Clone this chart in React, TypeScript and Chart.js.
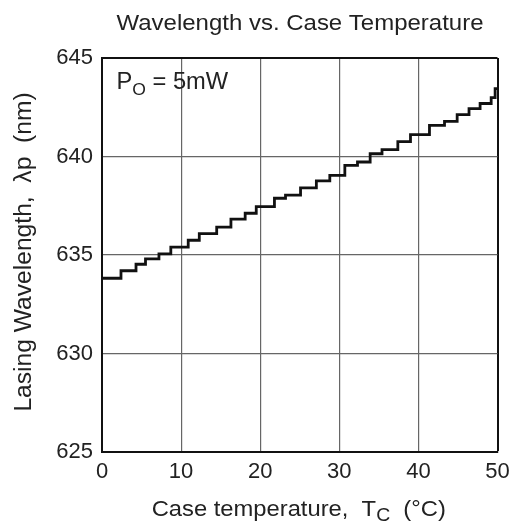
import { useEffect, useRef } from "react";
import { Chart, registerables } from "chart.js";

Chart.register(...registerables);

const temperatures = [0, 2.4, 4.3, 5.5, 7.2, 8.7, 10.9, 12.3, 14.5, 16.3, 18.1, 19.5, 21.8, 23.2, 25.1, 27.1, 28.8, 30.7, 32.3, 33.9, 35.4, 37.4, 39.0, 41.4, 43.3, 44.9, 46.4, 47.8, 49.2, 49.7, 50];
const wavelengths = [633.82, 634.2, 634.53, 634.8, 635.06, 635.4, 635.75, 636.08, 636.42, 636.82, 637.12, 637.46, 637.88, 638.04, 638.41, 638.76, 639.04, 639.55, 639.72, 640.14, 640.35, 640.76, 641.11, 641.58, 641.78, 642.13, 642.43, 642.69, 642.99, 643.45, 643.45];

const xTicks = [0, 10, 20, 30, 40, 50];
const yTicks = [625, 630, 635, 640, 645];

const chartTitle = "Wavelength vs. Case Temperature";
const xTitleMain = "Case temperature,  T";
const xTitleSub = "C";
const xTitleTail = "  (°C)";
const yTitle = "Lasing Wavelength,  λp  (nm)";
const noteMain = "P";
const noteSub = "O";
const noteTail = " = 5mW";

const FONT = "'Liberation Sans', Arial, sans-serif";
const TEXT = "#222";

type Part = { text: string; size: number; dy: number };

function drawParts(ctx: CanvasRenderingContext2D, parts: Part[], x: number, y: number, sx: number, align: "left" | "center") {
  let total = 0;
  const widths = parts.map((p) => {
    ctx.font = `${p.size}px ${FONT}`;
    const w = ctx.measureText(p.text).width;
    total += w;
    return w;
  });
  ctx.save();
  ctx.translate(x, y);
  ctx.scale(sx, 1);
  let cx = align === "center" ? -total / 2 : 0;
  ctx.textAlign = "left";
  ctx.textBaseline = "alphabetic";
  parts.forEach((p, i) => {
    ctx.font = `${p.size}px ${FONT}`;
    ctx.fillText(p.text, cx, p.dy);
    cx += widths[i];
  });
  ctx.restore();
}

const textPlugin = {
  id: "customText",
  afterDraw(chart: any) {
    const ctx = chart.ctx as CanvasRenderingContext2D;
    const area = chart.chartArea;
    const cx = (area.left + area.right) / 2;
    ctx.save();
    ctx.fillStyle = TEXT;

    drawParts(ctx, [{ text: chartTitle, size: 22, dy: 0 }], 300, 29.5, 1.09, "center");

    drawParts(
      ctx,
      [
        { text: xTitleMain, size: 22, dy: 0 },
        { text: xTitleSub, size: 18, dy: 5 },
        { text: xTitleTail, size: 22, dy: 0 },
      ],
      cx - 1,
      516,
      1.08,
      "center"
    );

    ctx.save();
    ctx.translate(31, 252);
    ctx.rotate(-Math.PI / 2);
    drawParts(ctx, [{ text: yTitle, size: 23, dy: 0 }], 0, 0, 1.07, "center");
    ctx.restore();

    drawParts(
      ctx,
      [
        { text: noteMain, size: 23, dy: 0 },
        { text: noteSub, size: 17, dy: 6.5 },
        { text: noteTail, size: 23, dy: 0 },
      ],
      116.5,
      88.5,
      1.03,
      "left"
    );

    ctx.restore();
  },
};

export default function App() {
  const ref = useRef<HTMLCanvasElement | null>(null);

  useEffect(() => {
    document.body.style.margin = "0";
    const canvas = ref.current;
    if (!canvas) return;
    const points = temperatures.map((t, i) => ({ x: t, y: wavelengths[i] }));
    const chart = new Chart(canvas, {
      type: "line",
      data: {
        datasets: [
          {
            data: points,
            stepped: "before",
            borderColor: "#111",
            borderWidth: 2.8,
            pointRadius: 0,
            fill: false,
          },
        ],
      },
      options: {
        animation: false,
        responsive: false,
        maintainAspectRatio: false,
        layout: { padding: { top: 58, right: 14.5, bottom: 42, left: 54 } },
        plugins: {
          legend: { display: false },
          tooltip: { enabled: false },
          title: { display: false },
        },
        scales: {
          x: {
            type: "linear",
            min: 0,
            max: 50,
            afterBuildTicks: (scale: any) => {
              scale.ticks = xTicks.map((v) => ({ value: v }));
            },
            afterFit: (scale: any) => {
              scale.height = 30;
              scale.paddingLeft = 0;
              scale.paddingRight = 0;
            },
            ticks: {
              color: TEXT,
              font: { family: FONT, size: 22 },
              padding: 7,
              maxRotation: 0,
            },
            grid: {
              drawTicks: false,
              color: (c: any) => (c.tick && c.tick.value === 50 ? "#111" : "#666"),
              lineWidth: (c: any) => (c.tick && c.tick.value === 50 ? 2 : 1.2),
            },
            border: { color: "#111", width: 2 },
          },
          y: {
            type: "linear",
            min: 625,
            max: 645,
            afterBuildTicks: (scale: any) => {
              scale.ticks = yTicks.map((v) => ({ value: v }));
            },
            afterFit: (scale: any) => {
              scale.width = 48;
              scale.paddingTop = 0;
              scale.paddingBottom = 0;
            },
            ticks: {
              color: TEXT,
              font: { family: FONT, size: 22 },
              padding: 9,
            },
            grid: {
              drawTicks: false,
              color: (c: any) => (c.tick && c.tick.value === 645 ? "#111" : "#666"),
              lineWidth: (c: any) => (c.tick && c.tick.value === 645 ? 2 : 1.2),
            },
            border: { color: "#111", width: 2 },
          },
        },
      },
      plugins: [textPlugin],
    });
    return () => chart.destroy();
  }, []);

  return (
    <div style={{ width: 512, height: 524 }}>
      <canvas ref={ref} width={512} height={524} style={{ display: "block", width: 512, height: 524 }} />
    </div>
  );
}
